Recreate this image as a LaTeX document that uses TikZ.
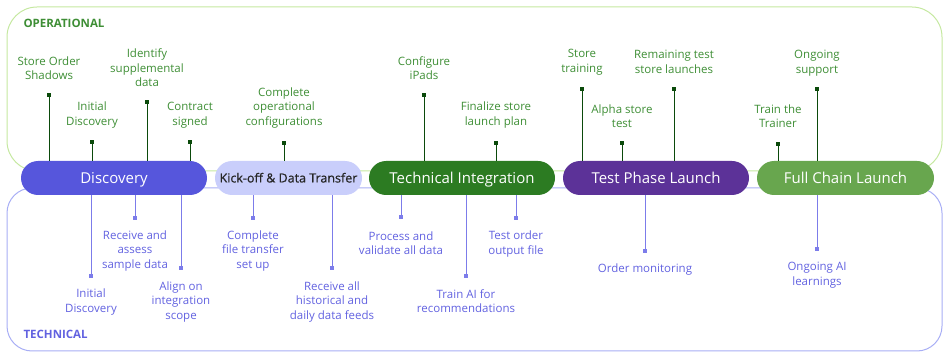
\documentclass[tikz,border=0pt]{standalone}
\usepackage{fontspec}
\setmainfont{Open Sans}
\usetikzlibrary{positioning}
\definecolor{opframe}{HTML}{C5E8A0}
\definecolor{optext}{HTML}{3E8E35}
\definecolor{opline}{HTML}{0B4A0B}
\definecolor{teframe}{HTML}{A8AEF5}
\definecolor{tetext}{HTML}{6262E0}
\definecolor{teline}{HTML}{7C7CEA}
\definecolor{cdisc}{HTML}{5656DC}
\definecolor{ckick}{HTML}{C9CEFB}
\definecolor{ctech}{HTML}{2C7B22}
\definecolor{ctest}{HTML}{5C3298}
\definecolor{cfull}{HTML}{68A64E}
\tikzset{
  pill/.style={rounded corners=17pt, minimum height=34pt, inner sep=0pt, text height=10.7pt, text depth=0pt, text=white, font=\fontsize{15}{18}\selectfont},
  oplabel/.style={align=center, text=optext, inner sep=0pt, font=\fontsize{11.5}{14.5}\selectfont},
  telabel/.style={align=center, text=tetext, inner sep=0pt, font=\fontsize{11.5}{14.5}\selectfont},
  omark/.style={fill=opline, minimum size=4pt, inner sep=0pt},
  tmark/.style={fill=teline, minimum size=4pt, inner sep=0pt},
  oline/.style={draw=opline, line width=1pt},
  tline/.style={draw=teline, line width=1pt}
}
\begin{document}
\begin{tikzpicture}[x=1pt,y=-1pt]
\useasboundingbox (0,0) rectangle (946,358);
% frames
\draw[opframe, line width=1pt, rounded corners=30pt] (7,7) rectangle (942,171);
\draw[teframe, line width=1pt, rounded corners=25pt] (7,188) rectangle (942,351);
\node[anchor=west, text=optext, font=\fontsize{11.5}{14}\selectfont\bfseries] (ophead) at (20,23) {OPERATIONAL};
\node[anchor=west, text=tetext, font=\fontsize{11.5}{14}\selectfont\bfseries] (tehead) at (20,334) {TECHNICAL};

% phases
\node[pill, fill=cdisc, minimum width=186pt] (disc) at (114,178) {Discovery};
\node[pill, fill=ckick, minimum width=147pt, text=black!85, text height=8.9pt, font=\fontsize{12.5}{15}\selectfont\addfontfeatures{FakeBold=0.6}] (kick) at (288.5,178) {Kick-off \& Data Transfer};
\node[pill, fill=ctech, minimum width=186pt] (tech) at (462,178) {Technical Integration};
\node[pill, fill=ctest, minimum width=186pt] (test) at (656,178) {Test Phase Launch};
\node[pill, fill=cfull, minimum width=177pt] (full) at (845.5,178) {Full Chain Launch};

% operational steps
\node[omark] (o1) at (49,95) {};   \node[oplabel] (o1l) at (49,68) {Store Order\\Shadows};
\node[omark] (o2) at (92,142) {};  \node[oplabel] (o2l) at (92,115) {Initial\\Discovery};
\node[omark] (o3) at (147,102) {}; \node[oplabel] (o3l) at (147,68) {Identify\\supplemental\\data};
\node[omark] (o4) at (190,142) {}; \node[oplabel] (o4l) at (190,115) {Contract\\signed};
\node[omark] (o5) at (284,143) {}; \node[oplabel] (o5l) at (284,108) {Complete\\operational\\configurations};
\node[omark] (o6) at (424,95) {};  \node[oplabel] (o6l) at (424,68) {Configure\\iPads};
\node[omark] (o7) at (496,143) {}; \node[oplabel] (o7l) at (496,115) {Finalize store\\launch plan};
\node[omark] (o8) at (582,89) {};  \node[oplabel] (o8l) at (582,62) {Store\\training};
\node[omark] (o9) at (622,143) {}; \node[oplabel] (o9l) at (622,116) {Alpha store\\test};
\node[omark] (o10) at (674,89) {}; \node[oplabel] (o10l) at (674,62) {Remaining test\\store launches};
\node[omark] (o11) at (778,144) {}; \node[oplabel] (o11l) at (778,116) {Train the\\Trainer};
\node[omark] (o12) at (817,89) {}; \node[oplabel] (o12l) at (817,63) {Ongoing\\support};

\draw[oline] (o1) -- (o1 |- disc.north);
\draw[oline] (o2) -- (o2 |- disc.north);
\draw[oline] (o3) -- (o3 |- disc.north);
\draw[oline] (o4) -- (o4 |- disc.north);
\draw[oline] (o5) -- (o5 |- kick.north);
\draw[oline] (o6) -- (o6 |- tech.north);
\draw[oline] (o7) -- (o7 |- tech.north);
\draw[oline] (o8) -- (o8 |- test.north);
\draw[oline] (o9) -- (o9 |- test.north);
\draw[oline] (o10) -- (o10 |- test.north);
\draw[oline] (o11) -- (o11 |- full.north);
\draw[oline] (o12) -- (o12 |- full.north);

% technical steps
\node[tmark] (t1) at (91,276) {};  \node[telabel] (t1l) at (91,302) {Initial\\Discovery};
\node[tmark] (t2) at (135,218) {}; \node[telabel] (t2l) at (135,251) {Receive and\\assess\\sample data};
\node[tmark] (t3) at (181,268) {}; \node[telabel] (t3l) at (181,302) {Align on\\integration\\scope};
\node[tmark] (t4) at (253,218) {}; \node[telabel] (t4l) at (253,251) {Complete\\file transfer\\set up};
\node[tmark] (t5) at (332,268) {}; \node[telabel] (t5l) at (332,302) {Receive all\\historical and\\daily data feeds};
\node[tmark] (t6) at (401,217) {}; \node[telabel] (t6l) at (401,243) {Process and\\validate all data};
\node[tmark] (t7) at (466,276) {}; \node[telabel] (t7l) at (466,301) {Train AI for\\recommendations};
\node[tmark] (t8) at (516,218) {}; \node[telabel] (t8l) at (516,244) {Test order\\output file};
\node[tmark] (t9) at (645,251) {}; \node[telabel] (t9l) at (645,270) {Order monitoring};
\node[tmark] (t10) at (817,249) {}; \node[telabel] (t10l) at (817,275) {Ongoing AI\\learnings};

\draw[tline] (disc.south -| t1) -- (t1);
\draw[tline] (disc.south -| t2) -- (t2);
\draw[tline] (disc.south -| t3) -- (t3);
\draw[tline] (kick.south -| t4) -- (t4);
\draw[tline] (kick.south -| t5) -- (t5);
\draw[tline] (tech.south -| t6) -- (t6);
\draw[tline] (tech.south -| t7) -- (t7);
\draw[tline] (tech.south -| t8) -- (t8);
\draw[tline] (test.south -| t9) -- (t9);
\draw[tline] (full.south -| t10) -- (t10);
\end{tikzpicture}
\end{document}
